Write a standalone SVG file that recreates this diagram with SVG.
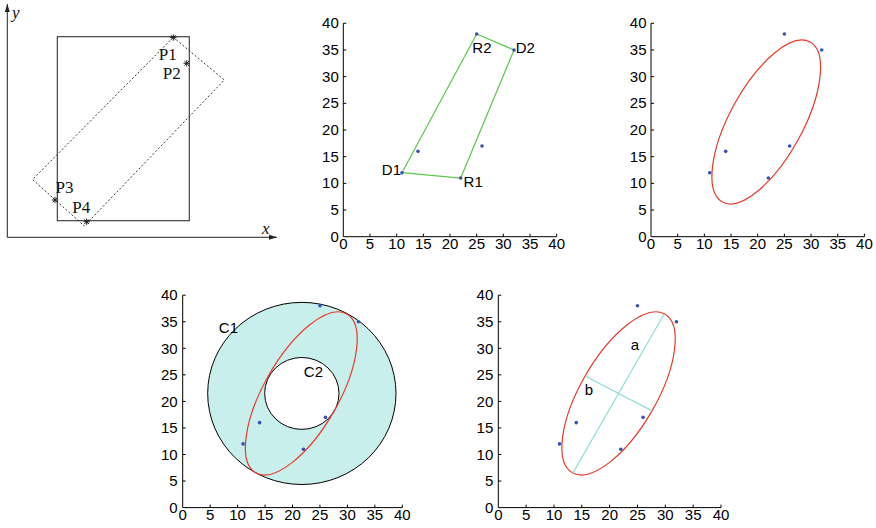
<svg xmlns="http://www.w3.org/2000/svg" xmlns:xlink="http://www.w3.org/1999/xlink" width="876" height="528" viewBox="0 0 876 528">
<style>
.ax{stroke:#000;stroke-width:1;fill:none}
.tk{font-family:"Liberation Sans",Arial,sans-serif;font-size:15px;fill:#000}
.xl{text-anchor:middle}
.yl{text-anchor:end}
.lbl{font-family:"Liberation Sans",Arial,sans-serif;font-size:15px;fill:#000}
.ser{font-family:"Liberation Serif","Times New Roman",serif;font-size:17px;fill:#111}
.dot{fill:#3a4fb0}
.ell{fill:none;stroke:#e8392a;stroke-width:1.2}
.grn{fill:none;stroke:#5ec84e;stroke-width:1.2}
.cy{stroke:#8ee0d8;stroke-width:1.2}
.ast{stroke:#222;stroke-width:1;fill:none}
</style>
<defs>
<marker id="arr" viewBox="0 0 8 6" refX="8" refY="3" markerWidth="8" markerHeight="6" orient="auto" markerUnits="userSpaceOnUse">
<path d="M0,0.5L8,3L0,5.5z" fill="#222"/>
</marker>
<path id="star" class="ast" d="M-3.2,0H3.2M0,-3.2V3.2M-2.3,-2.3L2.3,2.3M-2.3,2.3L2.3,-2.3"/>
</defs>

<!-- Panel 1 -->
<g id="panel1">
<g id="p1-axes">
<line x1="7.3" y1="237.3" x2="7.3" y2="4" stroke="#222" stroke-width="1" marker-end="url(#arr)"/>
<line x1="7.3" y1="237.3" x2="277" y2="237.3" stroke="#222" stroke-width="1" marker-end="url(#arr)"/>
<text class="ser" x="12" y="18" font-style="italic" font-size="18">y</text>
<text class="ser" x="262" y="234" font-style="italic" font-size="18">x</text>
</g>
<rect id="p1-rect" x="57.3" y="36.7" width="132" height="184" fill="none" stroke="#333" stroke-width="1.1"/>
<polygon id="p1-rot" points="173.3,37.3 224.3,80 84.3,226 32.5,179.5" fill="none" stroke="#222" stroke-width="0.9" stroke-dasharray="2,2"/>
<g id="p1-pts">
<use xlink:href="#star" x="173.3" y="37.5"/>
<use xlink:href="#star" x="186.7" y="63.3"/>
<use xlink:href="#star" x="55" y="200"/>
<use xlink:href="#star" x="86.7" y="221.7"/>
</g>
<text class="ser" x="158.8" y="60">P1</text>
<text class="ser" x="162.8" y="79.3">P2</text>
<text class="ser" x="55.5" y="193.3">P3</text>
<text class="ser" x="72.2" y="213.3">P4</text>
</g>

<!-- Panel 2 -->
<g id="panel2" transform="translate(343.3,236.7)">
<g id="p2-axes">
<path class="ax" d="M0,-213.4V0H213.4"/>
<path class="ax" d="M26.675,0v-3M53.35,0v-3M80.03,0v-3M106.7,0v-3M133.38,0v-3M160.05,0v-3M186.73,0v-3M213.4,0v-3M0,-26.675h3M0,-53.35h3M0,-80.03h3M0,-106.7h3M0,-133.38h3M0,-160.05h3M0,-186.73h3M0,-213.4h3"/>
<g class="tk xl">
<text x="0" y="12">0</text><text x="26.675" y="12">5</text><text x="53.35" y="12">10</text><text x="80.03" y="12">15</text><text x="106.7" y="12">20</text><text x="133.38" y="12">25</text><text x="160.05" y="12">30</text><text x="186.73" y="12">35</text><text x="213.4" y="12">40</text>
</g>
<g class="tk yl">
<text x="-4.5" y="5">0</text><text x="-4.5" y="-21.7">5</text><text x="-4.5" y="-48.35">10</text><text x="-4.5" y="-75.03">15</text><text x="-4.5" y="-101.7">20</text><text x="-4.5" y="-128.38">25</text><text x="-4.5" y="-155.05">30</text><text x="-4.5" y="-181.73">35</text><text x="-4.5" y="-208.4">40</text>
</g>
</g>
<polygon id="p2-quad" class="grn" points="58.69,-64.02 117.37,-58.69 170.72,-186.73 133.38,-202.73"/>
<g id="p2-pts" class="dot">
<circle cx="58.69" cy="-64.02" r="1.8"/><circle cx="74.69" cy="-85.36" r="1.8"/><circle cx="117.37" cy="-58.69" r="1.8"/><circle cx="138.71" cy="-90.7" r="1.8"/><circle cx="133.38" cy="-202.73" r="1.8"/><circle cx="170.72" cy="-186.73" r="1.8"/>
</g>
</g>
<text class="lbl" x="472.3" y="53">R2</text>
<text class="lbl" x="515.7" y="53">D2</text>
<text class="lbl" x="381.8" y="174.6">D1</text>
<text class="lbl" x="463.6" y="187">R1</text>

<!-- Panel 3 -->
<g id="panel3" transform="translate(651,236.7)">
<g id="p3-axes">
<path class="ax" d="M0,-213.4V0H213.4"/>
<path class="ax" d="M26.675,0v-3M53.35,0v-3M80.03,0v-3M106.7,0v-3M133.38,0v-3M160.05,0v-3M186.73,0v-3M213.4,0v-3M0,-26.675h3M0,-53.35h3M0,-80.03h3M0,-106.7h3M0,-133.38h3M0,-160.05h3M0,-186.73h3M0,-213.4h3"/>
<g class="tk xl">
<text x="0" y="12">0</text><text x="26.675" y="12">5</text><text x="53.35" y="12">10</text><text x="80.03" y="12">15</text><text x="106.7" y="12">20</text><text x="133.38" y="12">25</text><text x="160.05" y="12">30</text><text x="186.73" y="12">35</text><text x="213.4" y="12">40</text>
</g>
<g class="tk yl">
<text x="-4.5" y="5">0</text><text x="-4.5" y="-21.7">5</text><text x="-4.5" y="-48.35">10</text><text x="-4.5" y="-75.03">15</text><text x="-4.5" y="-101.7">20</text><text x="-4.5" y="-128.38">25</text><text x="-4.5" y="-155.05">30</text><text x="-4.5" y="-181.73">35</text><text x="-4.5" y="-208.4">40</text>
</g>
</g>
<g transform="scale(5.335,-5.335)">
<ellipse class="ell" vector-effect="non-scaling-stroke" cx="21.6" cy="21.5" rx="17.1" ry="6.85" transform="rotate(61.3 21.6 21.5)"/>
</g>
<g id="p3-pts" class="dot">
<circle cx="58.69" cy="-64.02" r="1.8"/><circle cx="74.69" cy="-85.36" r="1.8"/><circle cx="117.37" cy="-58.69" r="1.8"/><circle cx="138.71" cy="-90.7" r="1.8"/><circle cx="133.38" cy="-202.73" r="1.8"/><circle cx="170.72" cy="-186.73" r="1.8"/>
</g>
</g>

<!-- Panel 4 -->
<g id="panel4" transform="translate(182.7,507.6)">
<g transform="scale(5.49,-5.31)">
<path id="p4-annulus" vector-effect="non-scaling-stroke" fill="#c8efeb" fill-rule="evenodd" stroke="#000" stroke-width="1" d="M4.55,21.5a17.15,17.15 0 1,0 34.3,0a17.15,17.15 0 1,0 -34.3,0zM14.93,21.5a6.77,6.77 0 1,0 13.54,0a6.77,6.77 0 1,0 -13.54,0z"/>
<ellipse class="ell" vector-effect="non-scaling-stroke" cx="21.6" cy="21.5" rx="17.1" ry="6.85" transform="rotate(61.3 21.6 21.5)"/>
</g>
<g id="p4-axes">
<path class="ax" d="M0,-212.4V0H219.6"/>
<path class="ax" d="M27.45,0v-3M54.9,0v-3M82.35,0v-3M109.8,0v-3M137.25,0v-3M164.7,0v-3M192.15,0v-3M219.6,0v-3M0,-26.55h3M0,-53.1h3M0,-79.65h3M0,-106.2h3M0,-132.75h3M0,-159.3h3M0,-185.85h3M0,-212.4h3"/>
<g class="tk xl">
<text x="0" y="12.5">0</text><text x="27.45" y="12.5">5</text><text x="54.9" y="12.5">10</text><text x="82.35" y="12.5">15</text><text x="109.8" y="12.5">20</text><text x="137.25" y="12.5">25</text><text x="164.7" y="12.5">30</text><text x="192.15" y="12.5">35</text><text x="219.6" y="12.5">40</text>
</g>
<g class="tk yl">
<text x="-5" y="5.2">0</text><text x="-5" y="-21.35">5</text><text x="-5" y="-47.9">10</text><text x="-5" y="-74.45">15</text><text x="-5" y="-101">20</text><text x="-5" y="-127.55">25</text><text x="-5" y="-154.1">30</text><text x="-5" y="-180.65">35</text><text x="-5" y="-207.2">40</text>
</g>
</g>
<g id="p4-pts" class="dot">
<circle cx="60.39" cy="-63.72" r="1.8"/><circle cx="76.86" cy="-84.96" r="1.8"/><circle cx="120.78" cy="-58.41" r="1.8"/><circle cx="142.74" cy="-90.27" r="1.8"/><circle cx="137.25" cy="-201.78" r="1.8"/><circle cx="175.68" cy="-185.85" r="1.8"/>
</g>
</g>
<text class="lbl" x="218.8" y="333.3">C1</text>
<text class="lbl" x="303.8" y="376.6">C2</text>

<!-- Panel 5 -->
<g id="panel5" transform="translate(498.3,507.6)">
<g transform="scale(5.5675,-5.31)">
<ellipse class="ell" vector-effect="non-scaling-stroke" cx="21.6" cy="21.5" rx="17.1" ry="6.85" transform="rotate(61.3 21.6 21.5)"/>
<line class="cy" vector-effect="non-scaling-stroke" x1="13.39" y1="6.5" x2="29.81" y2="36.5"/>
<line class="cy" vector-effect="non-scaling-stroke" x1="15.59" y1="24.79" x2="27.61" y2="18.21"/>
</g>
<g id="p5-axes">
<path class="ax" d="M0,-212.4V0H222.7"/>
<path class="ax" d="M27.84,0v-3M55.68,0v-3M83.51,0v-3M111.35,0v-3M139.19,0v-3M167.03,0v-3M194.86,0v-3M222.7,0v-3M0,-26.55h3M0,-53.1h3M0,-79.65h3M0,-106.2h3M0,-132.75h3M0,-159.3h3M0,-185.85h3M0,-212.4h3"/>
<g class="tk xl">
<text x="0" y="12.5">0</text><text x="27.84" y="12.5">5</text><text x="55.68" y="12.5">10</text><text x="83.51" y="12.5">15</text><text x="111.35" y="12.5">20</text><text x="139.19" y="12.5">25</text><text x="167.03" y="12.5">30</text><text x="194.86" y="12.5">35</text><text x="222.7" y="12.5">40</text>
</g>
<g class="tk yl">
<text x="-5" y="5.2">0</text><text x="-5" y="-21.35">5</text><text x="-5" y="-47.9">10</text><text x="-5" y="-74.45">15</text><text x="-5" y="-101">20</text><text x="-5" y="-127.55">25</text><text x="-5" y="-154.1">30</text><text x="-5" y="-180.65">35</text><text x="-5" y="-207.2">40</text>
</g>
</g>
<g id="p5-pts" class="dot">
<circle cx="61.24" cy="-63.72" r="1.8"/><circle cx="77.95" cy="-84.96" r="1.8"/><circle cx="122.49" cy="-58.41" r="1.8"/><circle cx="144.76" cy="-90.27" r="1.8"/><circle cx="139.19" cy="-201.78" r="1.8"/><circle cx="178.16" cy="-185.85" r="1.8"/>
</g>
</g>
<text class="lbl" x="630.8" y="350">a</text>
<text class="lbl" x="584.8" y="395">b</text>
</svg>
